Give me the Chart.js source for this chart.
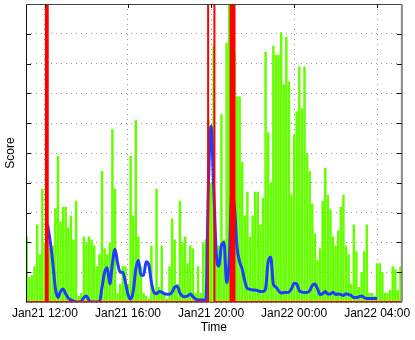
<!DOCTYPE html>
<html><head><meta charset="utf-8">
<script src="https://cdn.jsdelivr.net/npm/chart.js@4/dist/chart.umd.min.js"></script>
<style>html,body{margin:0;padding:0;background:#fff}#c{display:block}</style>
</head><body><canvas id="c" width="415" height="340"></canvas>
<script>
// ---- data (hours since Jan21 00:00) ----
const sampleStartHour = 11.125;
const sampleStepHours = 0.125;
const activityScores = [
 2.2,0.84,0.9,1.2,2.6,1.6,3.8,2.0,1.5,1.8,
 1.9,3.15,4.9,2.7,3.2,3.2,2.5,2.9,2.1,3.4,
 0.2,0.3,2.2,2.0,2.2,2.1,1.9,1.2,1.6,4.4,
 1.8,1.6,2.0,5.8,3.8,0.3,0.6,1.2,1.2,0.6,
 4.9,2.9,6.1,2.2,1.2,0.3,0.2,0.1,1.9,0.3,
 3.8,0.5,1.9,0.3,0.1,1.2,2.8,2.1,0.6,3.4,
 2.0,2.2,1.3,1.9,1.8,0.3,1.2,0.3,2.0,2.1,
 6.1,4.0,8.6,1.9,1.9,6.3,2.1,8.7,10,9.0,
 8.4,6.9,6.9,4.7,2.9,3.7,2.2,2.9,3.7,3.7,
 2.6,3.5,8.4,5.7,4.0,8.6,8.3,8.3,9.05,7.3,
 8.9,7.4,3.6,5.6,6.4,7.9,6.5,7.9,5.0,4.4,
 3.3,2.3,1.4,1.8,3.4,4.5,3.6,3.1,2.2,1.9,
 2.4,3.2,3.6,1.9,1.6,0.6,2.6,1.7,0.5,1.0,
 1.7,2.6,0.3,0.3,0.2,1.3,1.3,1.0,0.3,0.3,
 0.4,1.2,1.1,0.4,1.2
];
const smoothedScores = [
 null,null,null,null,null,null,null,null,2.6,2.05,
 1.35,0.47,0.15,0.35,0.44,0.27,0.13,0.07,0.03,0,
 0,0.02,0.15,0.2,0.05,0,0,0,0,0.5,
 1.0,1.15,0.6,1.3,1.77,1.3,1.0,1.0,0.67,0.25,
 0.1,0.35,1.1,1.4,0.9,0.9,1.35,1.25,0.67,0.33,
 0.28,0.35,0.33,0.28,0.26,0.26,0.33,0.5,0.53,0.3,
 0.2,0.18,0.2,0.27,0.18,0.1,0.07,0.07,0.07,0.07,
 4.0,5.9,3.85,1.64,1.2,1.9,2.0,0.65,1.4,3.65,
 3.2,1.85,1.35,1.1,0.7,0.45,0.43,0.4,0.4,0.38,
 0.35,0.35,0.45,1.35,1.5,0.6,0.5,0.38,0.3,0.32,
 0.32,0.33,0.45,0.63,0.6,0.38,0.33,0.32,0.32,0.38,
 0.55,0.6,0.45,0.25,0.28,0.35,0.27,0.27,0.33,0.25,
 0.27,0.25,0.22,0.28,0.25,0.22,0.15,0.15,0.18,0.2,
 0.15,0.12,0.12,0.12,0.12,0.12,null,null,null,null,
 null,null,null,null,null
];
const eventWindows = [[12.045,12.135],[19.859,20.161],[20.94,21.02],[21.05,21.13]];
const tickHours = [12,16,20,24,28];
const tickLabels = ['Jan21 12:00','Jan21 16:00','Jan21 20:00','Jan22 00:00','Jan22 04:00'];
const axisRange = [11.088, 29.188];
const scoreMax = 10;

// ---- build datasets ----
const times = activityScores.map((_, i) => sampleStartHour + i * sampleStepHours);
const greenData = activityScores.map((v, i) => ({x: times[i], y: v}));
const blueData = smoothedScores.map((v, i) => ({x: times[i], y: v}));
const redData = [{x: axisRange[0], y: 0}];
eventWindows.forEach(([a, b]) => {
  redData.push({x: a, y: 0}, {x: a, y: scoreMax}, {x: b, y: scoreMax}, {x: b, y: 0});
});
redData.push({x: axisRange[1], y: 0});

const FONT = "'Liberation Sans', Arial, Helvetica, sans-serif";

const framePlugin = {
  id: 'frame',
  beforeDatasetsDraw(chart) {
    const {ctx, chartArea: a} = chart;
    ctx.save();
    ctx.strokeStyle = '#000'; ctx.lineWidth = 1;
    ctx.beginPath(); ctx.moveTo(a.left, a.bottom); ctx.lineTo(a.right, a.bottom); ctx.stroke();
    ctx.restore();
  },
  afterDraw(chart) {
    const {ctx, chartArea: a, scales: {x, y}} = chart;
    ctx.save();
    ctx.lineWidth = 1; ctx.strokeStyle = '#111';
    ctx.beginPath();
    ctx.moveTo(a.left + 0.5, a.bottom); ctx.lineTo(a.left + 0.5, a.top + 0.5);
    ctx.stroke();
    ctx.strokeStyle = '#444';
    ctx.beginPath(); ctx.moveTo(a.left, a.top + 0.5); ctx.lineTo(a.right, a.top + 0.5); ctx.stroke();
    ctx.strokeStyle = '#8a8a8a'; ctx.lineWidth = 2;
    ctx.beginPath(); ctx.moveTo(a.right, a.top); ctx.lineTo(a.right, a.bottom); ctx.stroke();
    ctx.strokeStyle = '#111'; ctx.lineWidth = 1;
    y.ticks.forEach(t => {
      if (t.value <= 0 || t.value >= scoreMax) return;
      const py = Math.round(y.getPixelForValue(t.value)) + 0.5;
      ctx.beginPath();
      ctx.moveTo(a.left, py); ctx.lineTo(a.left + 5, py);
      ctx.moveTo(a.right - 5, py); ctx.lineTo(a.right, py);
      ctx.stroke();
    });
    x.ticks.forEach(t => {
      const px = Math.round(x.getPixelForValue(t.value)) + 0.5;
      ctx.beginPath(); ctx.moveTo(px, a.top); ctx.lineTo(px, a.top + 4); ctx.stroke();
    });
    ctx.restore();
  }
};

new Chart(document.getElementById('c').getContext('2d'), {
  type: 'bar',
  data: {
    datasets: [
      {type: 'line', data: redData, borderColor: '#ff0000', borderWidth: 2, pointRadius: 0,
       tension: 0, borderJoinStyle: 'miter', order: 0},
      {type: 'line', data: blueData, borderColor: '#1f3dff', borderWidth: 3, pointRadius: 0,
       cubicInterpolationMode: 'monotone', spanGaps: false, order: 1},
      {type: 'bar', data: greenData, backgroundColor: '#66ff00', borderWidth: 0,
       barPercentage: 0.96, categoryPercentage: 1, order: 2}
    ]
  },
  options: {
    responsive: false, animation: false, devicePixelRatio: 1,
    layout: {padding: {left: 0, right: 12, top: 4, bottom: 0}},
    plugins: {legend: {display: false}, tooltip: {enabled: false}},
    scales: {
      x: {
        type: 'linear', min: axisRange[0], max: axisRange[1], offset: false,
        afterBuildTicks: s => { s.ticks = tickHours.map(v => ({value: v})); },
        afterFit: s => { s.height = 38; },
        ticks: {callback: (v, i) => tickLabels[i], color: '#000', font: {size: 12, family: FONT},
                padding: 4, maxRotation: 0, autoSkip: false},
        grid: {color: '#999', drawTicks: false, offset: false, lineWidth: 1},
        border: {display: false, dash: [1, 4]},
        title: {display: true, text: 'Time', color: '#000', font: {size: 12, family: FONT},
                padding: {top: 0, bottom: 5}}
      },
      y: {
        min: 0, max: scoreMax,
        ticks: {display: false, stepSize: 1},
        afterFit: s => { s.width = 26; },
        grid: {color: '#999', drawTicks: false, lineWidth: 1},
        border: {display: false, dash: [1, 4]},
        title: {display: true, text: 'Score', color: '#000', font: {size: 12, family: FONT},
                padding: {top: 3, bottom: 0}}
      }
    }
  },
  plugins: [framePlugin]
});
</script>
</body></html>
